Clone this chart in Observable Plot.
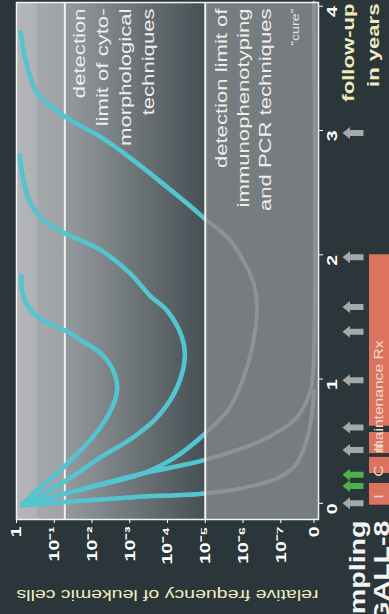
<!DOCTYPE html>
<html>
<head>
<meta charset="utf-8">
<script src="https://cdn.jsdelivr.net/npm/d3@7"></script>
<script src="https://cdn.jsdelivr.net/npm/@observablehq/plot@0.6"></script>
<style>
html, body { margin: 0; padding: 0; background: #2a363a; overflow: hidden; }
#chart svg { display: block; }
</style>
</head>
<body>
<div id="chart"></div>
<script>
// ---------- data ----------
// horizontal axis: exponent e, frequency = 10^-e ; "0" drawn at the far end
const freqExponents = [0, 1, 2, 3, 4, 5, 6, 7, 7.88];
const freqLabels = ["1", "10⁻¹", "10⁻²", "10⁻³", "10⁻⁴", "10⁻⁵", "10⁻⁶", "10⁻⁷", "0"];
const expDomain = [0, 8];

// vertical axis: follow-up in years
const yearTicks = [0, 1, 2, 3, 4];
const yearLabels = ["0", "1", "2", "3", "4"];
const yearDomain = [-0.13, 4.03];

// detection limits (exponent)
const detectionLimitExponents = [1.28, 5];
const detectionLabels = [
  "detection\nlimit of cyto-\nmorphological\ntechniques",
  "detection limit of\nimmunophenotyping\nand PCR techniques"
];
const cureLabel = "“cure”";

// curves (exponent vs years)
const relapse1Exp   = [0.15, 0.45, 1.35, 2.22, 2.61, 2.67, 2.56, 2.22, 1.77, 1.35, 0.71, 0.32, 0.16, 0.13];
const relapse1Years = [-0.015, 0.08, 0.32, 0.61, 0.83, 0.93, 1.07, 1.21, 1.30, 1.38, 1.47, 1.58, 1.69, 1.83];

const relapse2Exp   = [0.15, 1.35, 2.22, 3.09, 3.72, 4.25, 4.46, 4.38, 3.99, 3.54, 3.01, 2.22, 1.24, 0.63, 0.32, 0.16, 0.08];
const relapse2Years = [-0.015, 0.19, 0.37, 0.53, 0.69, 0.93, 1.18, 1.34, 1.55, 1.67, 1.85, 2.04, 2.18, 2.30, 2.45, 2.64, 2.80];

const relapse3Exp   = [0.15, 1.69, 3.35, 4.20, 4.99, 5.65, 6.10, 6.31, 6.37, 6.31, 6.10, 5.65, 4.99, 4.41, 3.01, 2.22, 1.24, 0.55, 0.24, 0.11];
const relapse3Years = [-0.015, 0.11, 0.24, 0.37, 0.56, 0.77, 1.09, 1.37, 1.55, 1.74, 1.90, 2.12, 2.29, 2.44, 2.78, 2.95, 3.12, 3.30, 3.57, 3.79];

const cure1Exp   = [0.15, 1.69, 3.35, 4.99, 6.52, 7.42, 7.77, 7.86, 7.88];
const cure1Years = [-0.015, 0.11, 0.24, 0.35, 0.51, 0.69, 0.89, 1.07, 4.03];

const cure2Exp   = [0.15, 1.69, 3.09, 4.99, 6.10, 6.97, 7.42, 7.69, 7.82, 7.88];
const cure2Years = [-0.015, 0.02, 0.05, 0.08, 0.13, 0.21, 0.32, 0.51, 0.71, 0.90];

// sampling time points (years)
const samplingYears = [0, 0.14, 0.23, 0.43, 0.61, 0.99, 1.38, 1.58, 1.98, 2.98];
const samplingKinds = ["routine", "MRD", "MRD", "routine", "routine", "routine", "routine", "routine", "routine", "routine"];

// treatment phases (years)
const phaseNames = ["I", "C", "II", "maintenance Rx"];
const phaseStart = [-0.015, 0.24, 0.40, 0.62];
const phaseEnd   = [0.16, 0.37, 0.57, 2.0];

// ---------- tables ----------
const curveDefs = [
  ["relapse 1", relapse1Exp, relapse1Years],
  ["relapse 2", relapse2Exp, relapse2Years],
  ["relapse 3", relapse3Exp, relapse3Years],
  ["cure 1", cure1Exp, cure1Years],
  ["cure 2", cure2Exp, cure2Years]
];
const curveRows = curveDefs.flatMap(([name, ex, yr]) => ex.map((e, i) => ({curve: name, e, t: yr[i]})));
const samples = samplingYears.map((t, i) => ({t, kind: samplingKinds[i]}));
const phases = phaseNames.map((name, i) => ({name, start: phaseStart[i], end: phaseEnd[i]}));
const freqTicks = freqExponents.map((e, i) => ({e, label: freqLabels[i]}));
const years = yearTicks.map((t, i) => ({t, label: yearLabels[i]}));

const CYAN = "#52c5d0";
const GREY_CURVE = "#8d9294";
const LIGHT = "#f0ebbd";

const arrowSymbol = {
  draw(ctx) {
    ctx.moveTo(-10.5, 0);
    ctx.lineTo(-3, -6);
    ctx.lineTo(-3, -3);
    ctx.lineTo(10.5, -3);
    ctx.lineTo(10.5, 3);
    ctx.lineTo(-3, 3);
    ctx.lineTo(-3, 6);
    ctx.closePath();
  }
};

const plot = Plot.plot({
  width: 389,
  height: 614,
  marginTop: 2,
  marginBottom: 95,
  marginLeft: 16,
  marginRight: 71,
  style: {background: "#2a363a", fontFamily: "'Liberation Sans', Arial, sans-serif"},
  x: {domain: expDomain, axis: null},
  y: {domain: yearDomain, axis: null},
  marks: [
    // background regions
    Plot.rect([0], {x1: expDomain[0], x2: detectionLimitExponents[1], fill: "url(#bgGrad)"}),
    Plot.rect([0], {x1: detectionLimitExponents[1], x2: expDomain[1], fill: "#777c7e"}),
    // cytology detection line (under curves)
    Plot.ruleX([detectionLimitExponents[0]], {stroke: "#f2f2f2", strokeWidth: 2}),
    // curves: grey everywhere, cyan above 10^-5 (clipped later)
    Plot.line(curveRows, {x: "e", y: "t", z: "curve", stroke: GREY_CURVE, strokeWidth: 4, curve: "catmull-rom"}),
    Plot.line(curveRows, {x: "e", y: "t", z: "curve", stroke: CYAN, strokeWidth: 4.5, curve: "catmull-rom"}),
    // PCR detection line
    Plot.ruleX([detectionLimitExponents[1]], {stroke: "#f2f2f2", strokeWidth: 2}),
    Plot.frame({stroke: "#f2f2f2", strokeWidth: 1.5}),
    // axes ticks
    Plot.axisX({ticks: freqExponents, tickSize: 4, tickFormat: () => "", stroke: "#ffffff", label: null}),
    Plot.axisY({anchor: "right", ticks: yearTicks, tickSize: 4, tickFormat: () => "", stroke: "#ffffff", label: null}),
    // tick labels
    Plot.text(freqTicks, {x: "e", text: "label", frameAnchor: "bottom", dy: 7, rotate: -90, textAnchor: "end",
      lineAnchor: "middle", fill: "#ffffff", fontWeight: "bold", fontSize: 15}),
    Plot.text(years, {y: "t", text: "label", frameAnchor: "right", dx: 14, rotate: -90, lineAnchor: "middle",
      fill: "#ffffff", fontWeight: "bold", fontSize: 15}),
    // axis titles
    Plot.text(["relative frequency of leukemic cells"], {frameAnchor: "bottom", dy: 75, rotate: 180,
      lineAnchor: "middle", fill: LIGHT, fontSize: 15}),
    Plot.text(["follow-up\nin years"], {frameAnchor: "top-right", dx: 40, dy: 1, rotate: -90, textAnchor: "end",
      lineAnchor: "middle", lineHeight: 1.45, fill: LIGHT, fontWeight: "bold", fontSize: 17}),
    // annotations
    Plot.text([detectionLimitExponents[0]], {x: d => d, text: () => detectionLabels[0], frameAnchor: "top", dx: 47, dy: 6,
      rotate: -90, textAnchor: "end", lineAnchor: "middle", lineHeight: 1.35, fill: "#eeeeee", fontSize: 17}),
    Plot.text([detectionLimitExponents[1]], {x: d => d, text: () => detectionLabels[1], frameAnchor: "top", dx: 37, dy: 6,
      rotate: -90, textAnchor: "end", lineAnchor: "middle", lineHeight: 1.3, fill: "#eeeeee", fontSize: 17}),
    Plot.text([freqExponents[8]], {x: d => d, text: () => cureLabel, frameAnchor: "top", dx: -18, dy: 6,
      rotate: -90, textAnchor: "end", lineAnchor: "middle", fill: "#e4e4e4", fontSize: 11}),
    // treatment phases
    Plot.rect(phases, {y1: "start", y2: "end", fill: "#dc735f", dx: 353, insetRight: 279}),
    Plot.text(phases, {y: d => (d.start + d.end) / 2, text: "name", frameAnchor: "right", dx: 61, rotate: -90,
      lineAnchor: "middle", fill: "#f7dccd", fontSize: 12}),
    // sampling arrows
    Plot.dot(samples.filter(d => d.kind === "routine"), {y: "t", frameAnchor: "right", dx: 34.5, symbol: arrowSymbol,
      fill: "#a4a8aa", stroke: "none"}),
    Plot.dot(samples.filter(d => d.kind === "MRD"), {y: "t", frameAnchor: "right", dx: 34.5, symbol: arrowSymbol,
      fill: "#4db04a", stroke: "none"}),
    Plot.text(["Sampling\nGALL-8"], {frameAnchor: "bottom-right", dx: 50.5, dy: 1, rotate: -90, textAnchor: "end",
      lineAnchor: "middle", lineHeight: 1.1, fill: "#f4f4f4", fontWeight: "bold", fontSize: 22})
  ]
});

// ---------- gradient, clipping, stretched lettering ----------
const xs = plot.scale("x");
const cut = xs.apply(detectionLimitExponents[1]);
const defs = document.createElementNS("http://www.w3.org/2000/svg", "defs");
defs.innerHTML = `
  <linearGradient id="bgGrad" x1="0" x2="1" y1="0" y2="0">
    <stop offset="0" stop-color="#b4b6b9"/>
    <stop offset="0.11" stop-color="#afb1b4"/>
    <stop offset="0.112" stop-color="#a6a9ac"/>
    <stop offset="0.25" stop-color="#a0a3a6"/>
    <stop offset="0.26" stop-color="#959a9d"/>
    <stop offset="1" stop-color="#465054"/>
  </linearGradient>
  <clipPath id="cyanClip"><rect x="0" y="0" width="${cut}" height="614"/></clipPath>`;
plot.insertBefore(defs, plot.firstChild);
plot.querySelectorAll("g").forEach(g => {
  if (g.getAttribute("stroke") === CYAN) g.setAttribute("clip-path", "url(#cyanClip)");
});
plot.querySelectorAll("text").forEach(t => {
  const tr = t.getAttribute("transform");
  if (tr && tr.includes("rotate")) t.setAttribute("transform", tr + " scale(1.3,1)");
});
document.getElementById("chart").appendChild(plot);
</script>
</body>
</html>
